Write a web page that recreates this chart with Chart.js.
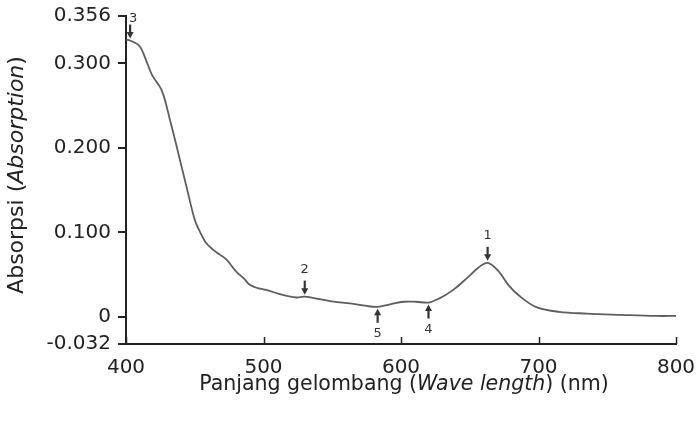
<!DOCTYPE html>
<html>
<head>
<meta charset="utf-8">
<script src="https://cdn.jsdelivr.net/npm/chart.js@4/dist/chart.umd.min.js"></script>
<style>
  html, body { margin: 0; padding: 0; background: #fff; }
  #wrap { width: 698px; height: 423px; }
</style>
</head>
<body>
<div id="wrap"><canvas id="spectrum" width="698" height="423"></canvas></div>
<script>
// Panjang gelombang (nm) dan absorbansi
const wavelengths = [400, 403, 410, 415, 419, 426, 432, 438, 444, 450, 454, 458, 463, 468, 473,
  480, 486, 490, 496, 502, 514, 524, 530, 541, 551, 563, 575, 583, 592, 602, 611, 620,
  628, 638, 648, 656, 663, 671, 678, 686, 698, 715, 735, 760, 785, 800];
const absorbance = [0.328, 0.327, 0.320, 0.302, 0.286, 0.268, 0.233, 0.194, 0.154, 0.115, 0.100, 0.088, 0.080, 0.074, 0.068,
  0.054, 0.045, 0.038, 0.034, 0.032, 0.026, 0.023, 0.024, 0.021, 0.018, 0.016, 0.013, 0.012, 0.015, 0.018, 0.018, 0.017,
  0.022, 0.032, 0.046, 0.058, 0.064, 0.054, 0.038, 0.025, 0.012, 0.006, 0.004, 0.0025, 0.0012, 0.0012];

// Tick sumbu
const xTicks = [400, 500, 600, 700, 800];
const yTicks = [-0.032, 0, 0.1, 0.2, 0.3, 0.356];

// Penanda puncak 1-5
const markLabels = ['1', '2', '3', '4', '5'];
const markWave = [663, 530, 403, 620, 583];
const markAbs = [0.064, 0.024, 0.327, 0.017, 0.012];
const markUp = [false, false, false, true, true];

const FONT = '"DejaVu Sans", sans-serif';
const INK = '#222';

// Tick sumbu-x mengarah ke dalam, seperti di gambar asli
const innerTicks = {
  id: 'innerTicks',
  afterDraw(chart) {
    const c = chart.ctx, x = chart.scales.x, y0 = chart.chartArea.bottom;
    c.save();
    c.strokeStyle = INK;
    c.lineWidth = 1.5;
    xTicks.forEach(v => {
      const px = Math.round(x.getPixelForValue(v)) + 0.5;
      c.beginPath();
      c.moveTo(px, y0);
      c.lineTo(px, y0 - 7);
      c.stroke();
    });
    c.restore();
  }
};

// Judul sumbu dengan bagian miring
function mixedText(c, parts, cx, cy, size) {
  let total = 0;
  parts.forEach(p => {
    c.font = (p[1] ? 'italic ' : '') + size + 'px ' + FONT;
    total += c.measureText(p[0]).width;
  });
  let x = cx - total / 2;
  parts.forEach(p => {
    c.font = (p[1] ? 'italic ' : '') + size + 'px ' + FONT;
    c.fillText(p[0], x, cy);
    x += c.measureText(p[0]).width;
  });
}

const axisTitles = {
  id: 'axisTitles',
  afterDraw(chart) {
    const c = chart.ctx;
    c.save();
    c.fillStyle = INK;
    c.textBaseline = 'middle';
    c.textAlign = 'left';
    mixedText(c, [['Panjang gelombang (', false], ['Wave length', true], [') (nm)', false]], 404, 385, 20.5);
    c.translate(17, 175);
    c.rotate(-Math.PI / 2);
    mixedText(c, [['Absorpsi (', false], ['Absorption', true], [')', false]], 0, 0, 22);
    c.restore();
  }
};

// Panah dan nomor penanda
const peakMarks = {
  id: 'peakMarks',
  afterDatasetsDraw(chart) {
    const c = chart.ctx, x = chart.scales.x, y = chart.scales.y;
    c.save();
    c.fillStyle = '#333';
    c.strokeStyle = '#333';
    c.lineWidth = 2.2;
    c.font = '13px ' + FONT;
    c.textAlign = 'center';
    c.textBaseline = 'middle';
    markLabels.forEach((lab, i) => {
      const px = x.getPixelForValue(markWave[i]);
      const tip = y.getPixelForValue(markAbs[i]) + (markUp[i] ? 2 : -2);
      const dir = markUp[i] ? 1 : -1;
      const tail = tip + dir * 14;
      c.beginPath();
      c.moveTo(px, tail);
      c.lineTo(px, tip + dir * 5);
      c.stroke();
      c.beginPath();
      c.moveTo(px, tip);
      c.lineTo(px - 3.5, tip + dir * 6.5);
      c.lineTo(px + 3.5, tip + dir * 6.5);
      c.closePath();
      c.fill();
      // nomor 3 menempel di atas panah, agak ke kanan
      if (lab === '3') c.fillText(lab, px + 3, tail - 6);
      else c.fillText(lab, px, tail + dir * 11);
    });
    c.restore();
  }
};

new Chart(document.getElementById('spectrum'), {
  type: 'line',
  data: {
    datasets: [{
      data: wavelengths.map((w, i) => ({ x: w, y: absorbance[i] })),
      borderColor: '#5e5e5e',
      borderWidth: 1.8,
      pointRadius: 0,
      tension: 0.35,
      fill: false
    }]
  },
  options: {
    responsive: false,
    animation: false,
    layout: { padding: { top: 16, right: 22, left: 0, bottom: 0 } },
    plugins: { legend: { display: false }, tooltip: { enabled: false } },
    scales: {
      x: {
        type: 'linear',
        min: 400,
        max: 800,
        afterFit(scale) {
          scale.height = 79;
          scale.paddingLeft = 0;
          scale.paddingRight = 0;
        },
        afterBuildTicks(scale) { scale.ticks = xTicks.map(v => ({ value: v })); },
        grid: { display: false, drawTicks: false },
        border: { display: true, color: INK, width: 2 },
        ticks: { color: INK, font: { family: FONT, size: 20 }, padding: 12, maxRotation: 0 }
      },
      y: {
        type: 'linear',
        min: -0.032,
        max: 0.356,
        afterFit(scale) {
          scale.width = 126;
          scale.paddingTop = 0;
          scale.paddingBottom = 0;
        },
        afterBuildTicks(scale) { scale.ticks = yTicks.map(v => ({ value: v })); },
        grid: { drawOnChartArea: false, drawTicks: true, tickLength: 8, color: INK, lineWidth: 2 },
        border: { display: true, color: INK, width: 2 },
        ticks: {
          color: INK,
          font: { family: FONT, size: 20 },
          padding: 7,
          callback: v => (v === 0 ? '0' : v.toFixed(3))
        }
      }
    }
  },
  plugins: [innerTicks, axisTitles, peakMarks]
});
</script>
</body>
</html>
